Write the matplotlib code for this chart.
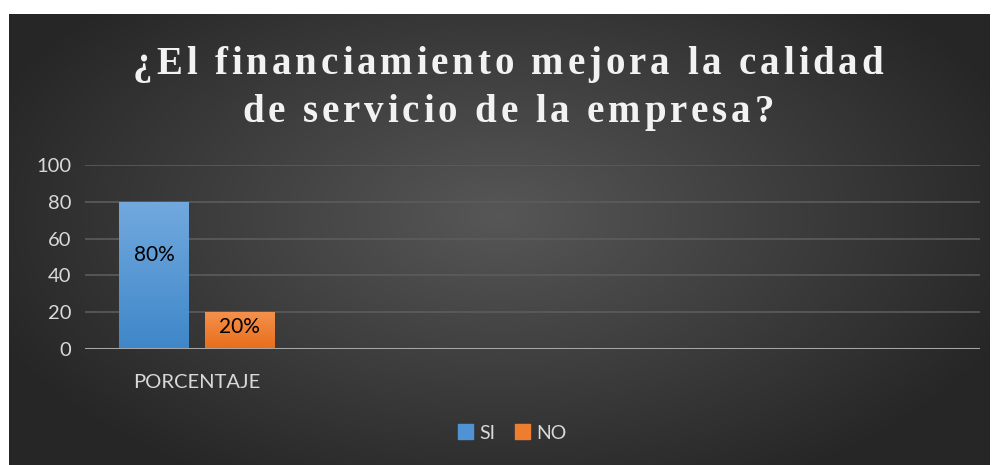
import numpy as np
import matplotlib
matplotlib.use("Agg")
import matplotlib.pyplot as plt
from matplotlib.font_manager import FontProperties, findfont, get_font

# Data
categorias = ["PORCENTAJE", "", "", ""]
series = ["SI", "NO"]
valores_si = [80, None, None, None]
valores_no = [20, None, None, None]
etiquetas_si = ["80%", "", "", ""]
etiquetas_no = ["20%", "", "", ""]
titulo = ["¿El financiamiento mejora la calidad", "de servicio de la empresa?"]
yticks = [0, 20, 40, 60, 80, 100]

W, H = 994, 465
fig = plt.figure(figsize=(W / 100, H / 100), dpi=100)
fig.patch.set_facecolor("white")

# Fondo oscuro con degradado radial
bg = fig.add_axes([9 / W, 0, (990 - 9) / W, (H - 14) / H])
bg.set_axis_off()
yy, xx = np.mgrid[0:1:300j, 0:1:600j]
r = np.sqrt(((xx - 0.5) / 0.75) ** 2 + ((yy - 0.55) / 0.9) ** 2)
r = np.clip(r / 0.75, 0, 1)
g = 0.34 - 0.19 * r
img = np.dstack([g, g, g])
bg.imshow(img, aspect="auto", extent=[0, 1, 0, 1], origin="lower")
bg.set_xlim(0, 1)
bg.set_ylim(0, 1)

# Titulo con espaciado entre letras
fp = FontProperties(family="Liberation Serif", weight="bold", size=28)
ft = get_font(findfont(fp))
ft.set_size(28, 100)
espacio = 3.9  # px
for i, linea in enumerate(titulo):
    avances = [ft.load_char(ord(c)).linearHoriAdvance / 65536 for c in linea]
    total = sum(avances) + espacio * (len(linea) - 1)
    xpos = 508 - total / 2
    ypx = 74 + i * 48
    for c, a in zip(linea, avances):
        if c != " ":
            fig.text(xpos / W, 1 - ypx / H, c, ha="left", va="baseline",
                     fontproperties=fp, color="#f2f2f2")
        xpos += a + espacio

# Grafico
ax = fig.add_axes([85 / W, 1 - 349 / H, (980 - 85) / W, (349 - 165) / H])
ax.set_facecolor("none")
x = np.arange(len(categorias))
ancho = 0.3125
desp = 0.192

def barras_degradado(ax, xs, vals, c_top, c_bot):
    c_top = np.array(matplotlib.colors.to_rgb(c_top))
    c_bot = np.array(matplotlib.colors.to_rgb(c_bot))
    t = np.linspace(0, 1, 100)[:, None]
    grad = (c_bot * (1 - t) + c_top * t)[:, None, :]
    for xi, v in zip(xs, vals):
        if v is None:
            continue
        p = ax.bar(xi, v, width=ancho, color=c_bot, zorder=3)[0]
        im = ax.imshow(grad, aspect="auto", origin="lower",
                       extent=[xi - ancho / 2, xi + ancho / 2, 0, v], zorder=3.1)
        im.set_clip_path(p)

barras_degradado(ax, x - desp, valores_si, "#72a9de", "#3f87c9")
barras_degradado(ax, x + desp, valores_no, "#f4914c", "#e86d1a")

for xi, v, lab in zip(x - desp, valores_si, etiquetas_si):
    if v is not None:
        ax.text(xi, v * 0.64, lab, ha="center", va="center", fontsize=15,
                family="Lato", color="black", zorder=5)
for xi, v, lab in zip(x + desp, valores_no, etiquetas_no):
    if v is not None:
        ax.text(xi, v * 0.6, lab, ha="center", va="center", fontsize=15,
                family="Lato", color="black", zorder=5)

ax.set_xlim(-0.5, len(categorias) - 0.5)
ax.set_ylim(0, 100)
ax.set_yticks(yticks)
ax.set_yticklabels([str(v) for v in yticks], family="Lato", fontsize=14.5,
                   color="#d9d9d9")
ax.set_xticks(x)
ax.set_xticklabels(categorias, family="Lato", fontsize=14.5, color="#d9d9d9")
ax.tick_params(length=0, pad=10)
ax.tick_params(axis="x", pad=18)
for s in ax.spines.values():
    s.set_visible(False)
ax.grid(axis="y", color="#5c5c5c", lw=1.2, zorder=1)
ax.axhline(0, color="#a6a6a6", lw=2.2, zorder=4)

# Leyenda
h1 = plt.Rectangle((0, 0), 1, 1, color="#4f93d4")
h2 = plt.Rectangle((0, 0), 1, 1, color="#ef7d30")
fig.legend([h1, h2], series, loc="center", bbox_to_anchor=(512 / W, 1 - 433 / H),
           ncol=2, frameon=False, handlelength=0.8, handleheight=0.8,
           handletextpad=0.3, columnspacing=1.0,
           prop={"family": "Lato", "size": 14}, labelcolor="#d9d9d9")

fig.savefig("out.png", dpi=100)
